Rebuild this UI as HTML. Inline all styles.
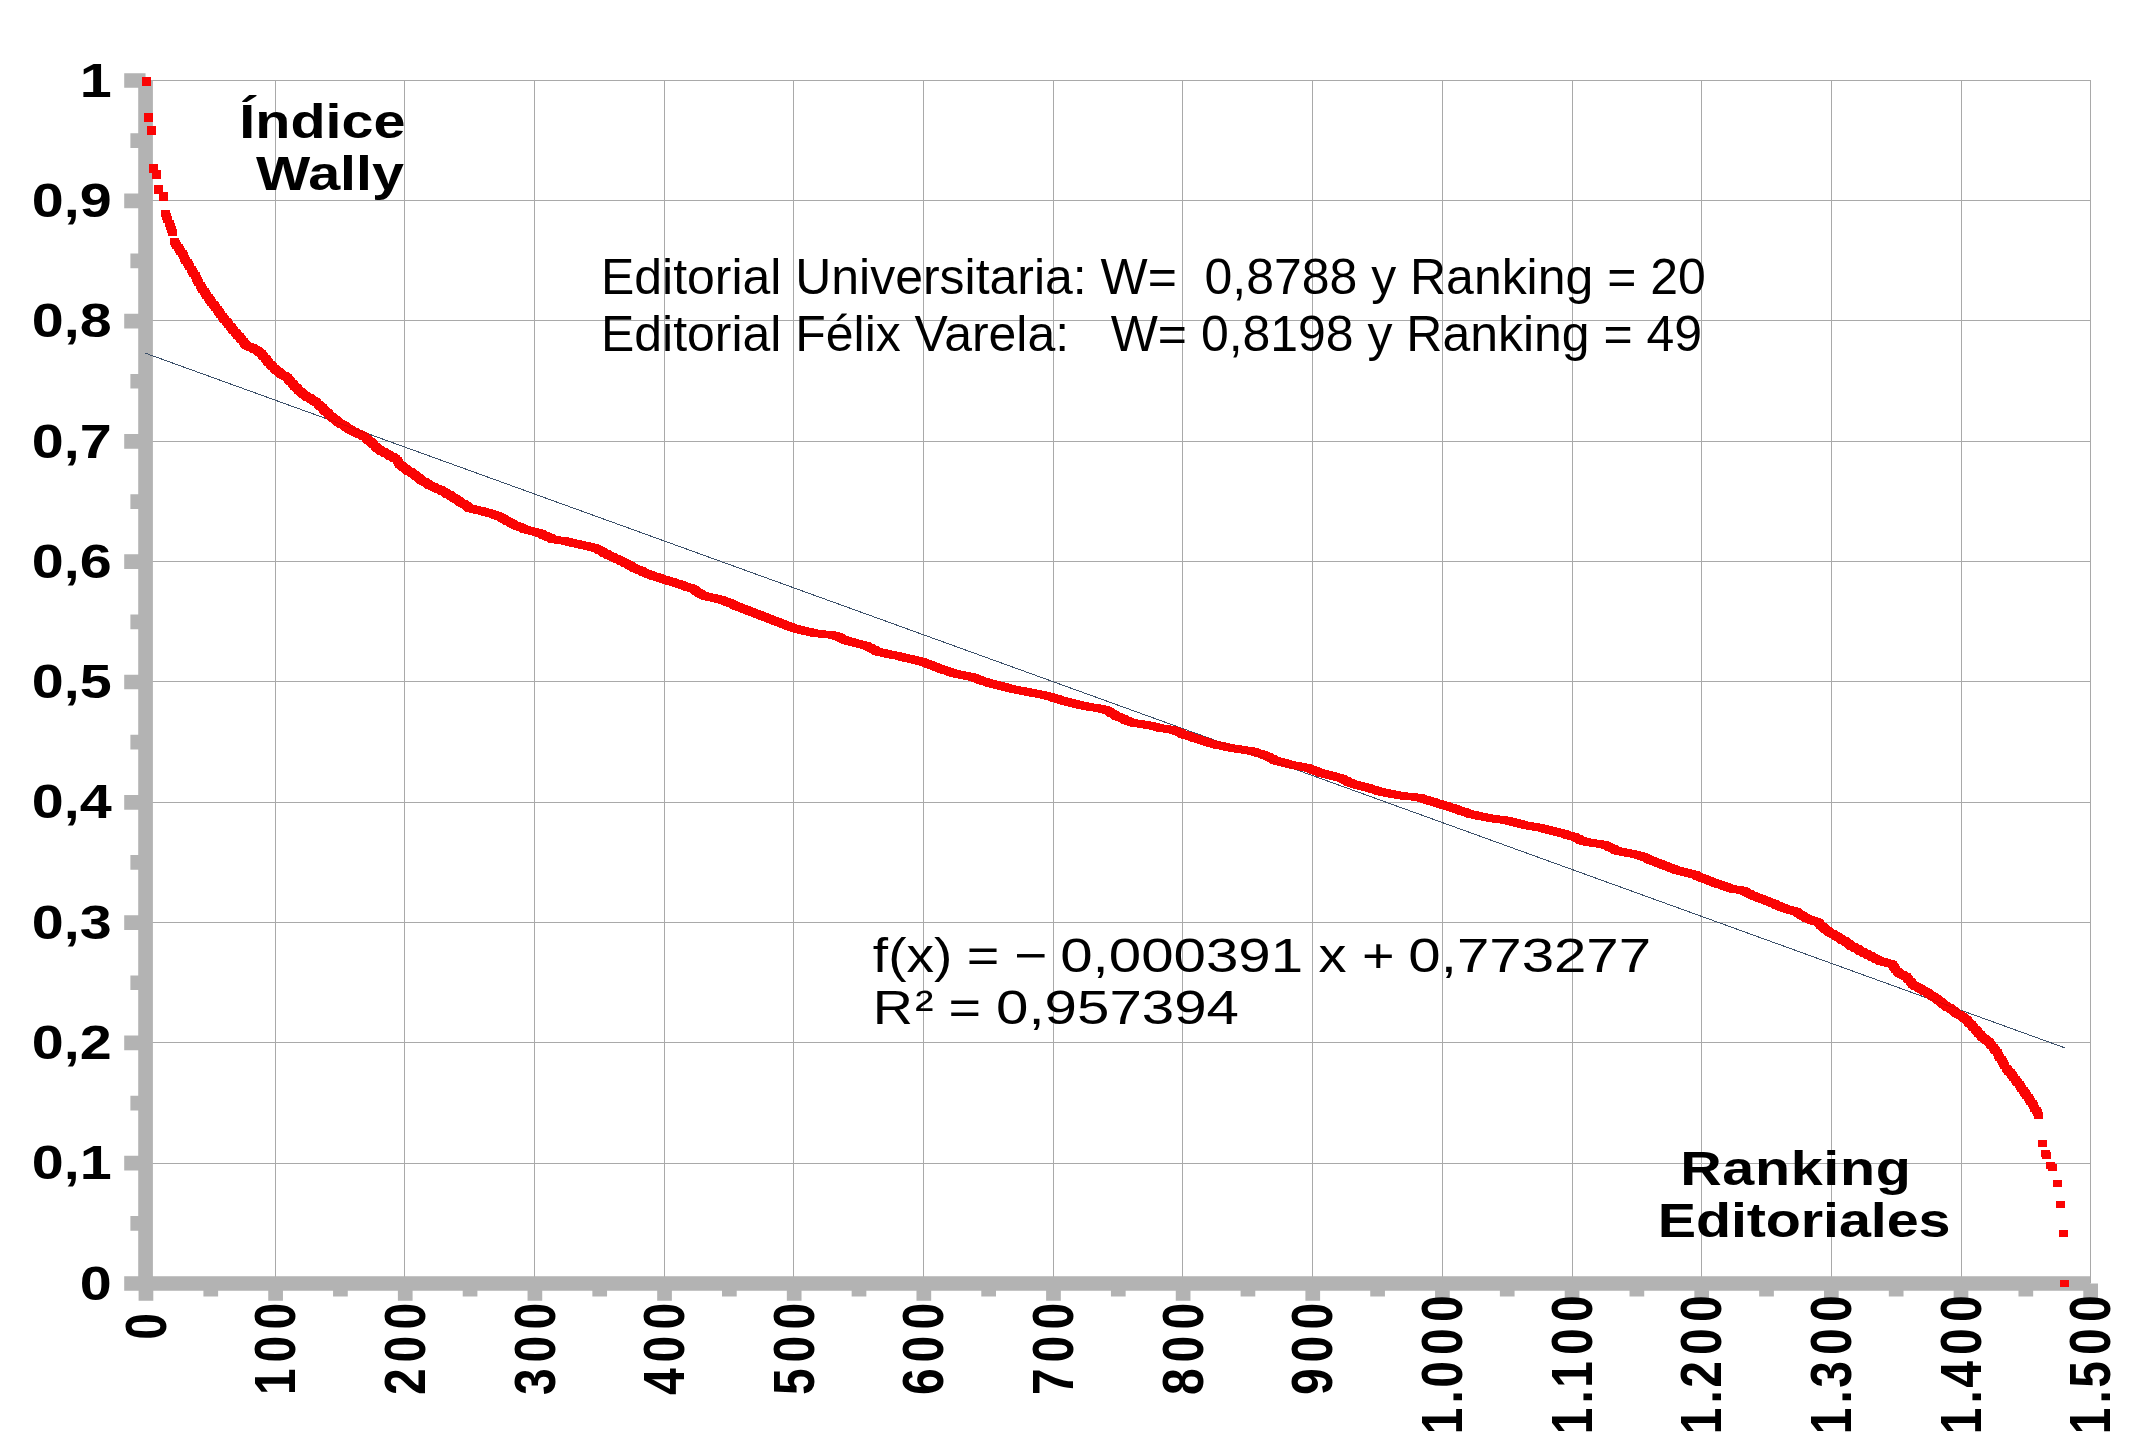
<!DOCTYPE html><html><head><meta charset="utf-8"><title>Índice Wally</title>
<style>html,body{margin:0;padding:0;background:#fff}svg{display:block}text{font-family:"Liberation Sans",sans-serif;fill:#000}.b{font-weight:bold}</style></head><body>
<svg width="2153" height="1453" viewBox="0 0 2153 1453">
<rect width="2153" height="1453" fill="#fff"/>
<path d="M275.5 80.0V1283.5M404.5 80.0V1283.5M534.5 80.0V1283.5M664.5 80.0V1283.5M793.5 80.0V1283.5M923.5 80.0V1283.5M1053.5 80.0V1283.5M1182.5 80.0V1283.5M1312.5 80.0V1283.5M1442.5 80.0V1283.5M1572.5 80.0V1283.5M1701.5 80.0V1283.5M1831.5 80.0V1283.5M1961.5 80.0V1283.5M2090.5 80.0V1283.5M145.9 1163.5H2091.0M145.9 1042.5H2091.0M145.9 922.5H2091.0M145.9 802.5H2091.0M145.9 681.5H2091.0M145.9 561.5H2091.0M145.9 441.5H2091.0M145.9 320.5H2091.0M145.9 200.5H2091.0M145.9 80.5H2091.0" stroke="#a9a9a9" stroke-width="1" fill="none"/>
<path d="M145.55 80.50V1283.50M145.55 1283.50H2090.00M124.20 1283.50H145.55M130.40 1223.35H145.55M124.20 1163.20H145.55M130.40 1103.05H145.55M124.20 1042.90H145.55M130.40 982.75H145.55M124.20 922.60H145.55M130.40 862.45H145.55M124.20 802.30H145.55M130.40 742.15H145.55M124.20 682.00H145.55M130.40 621.85H145.55M124.20 561.70H145.55M130.40 501.55H145.55M124.20 441.40H145.55M130.40 381.25H145.55M124.20 321.10H145.55M130.40 260.95H145.55M124.20 200.80H145.55M130.40 140.65H145.55M124.20 80.50H145.55M145.95 1283.50V1300.70M210.77 1283.50V1296.60M275.60 1283.50V1300.70M340.42 1283.50V1296.60M405.24 1283.50V1300.70M470.06 1283.50V1296.60M534.89 1283.50V1300.70M599.71 1283.50V1296.60M664.53 1283.50V1300.70M729.36 1283.50V1296.60M794.18 1283.50V1300.70M859.00 1283.50V1296.60M923.83 1283.50V1300.70M988.65 1283.50V1296.60M1053.47 1283.50V1300.70M1118.29 1283.50V1296.60M1183.12 1283.50V1300.70M1247.94 1283.50V1296.60M1312.76 1283.50V1300.70M1377.59 1283.50V1296.60M1442.41 1283.50V1300.70M1507.23 1283.50V1296.60M1572.06 1283.50V1300.70M1636.88 1283.50V1296.60M1701.70 1283.50V1300.70M1766.52 1283.50V1296.60M1831.35 1283.50V1300.70M1896.17 1283.50V1296.60M1960.99 1283.50V1300.70M2025.82 1283.50V1296.60M2090.64 1283.50V1300.70" stroke="#b3b3b3" stroke-width="14.7" fill="none"/>
<line x1="144.6" y1="352.9" x2="2065" y2="1047.9" stroke="#3f5f7b" stroke-width="1" shape-rendering="crispEdges"/>
<path d="M142 77h9v9h-9zM144 113h9v9h-9zM147 126h9v9h-9zM149 164h9v9h-9zM152 170h9v9h-9zM154 185h9v9h-9zM159 192h9v9h-9zM161 210h9v7h-9zM162 213h9v7h-9zM163 216h9v7h-9zM165 220h9v7h-9zM166 223h9v7h-9zM167 226h9v7h-9zM168 229h9v7h-9zM170 238h9v7h-9zM171 240h9v7h-9zM172 242h9v7h-9zM174 244h9v7h-9zM175 246h9v7h-9zM176 248h9v7h-9zM178 250h9v7h-9zM179 252h9v7h-9zM180 255h9v7h-9zM181 257h9v7h-9zM183 259h9v7h-9zM184 261h9v7h-9zM185 263h9v7h-9zM187 266h9v7h-9zM188 268h9v7h-9zM189 270h9v7h-9zM191 272h9v7h-9zM192 275h9v7h-9zM193 277h9v7h-9zM194 279h9v7h-9zM196 282h9v7h-9zM197 284h9v7h-9zM198 286h9v7h-9zM200 288h9v7h-9zM201 290h9v7h-9zM202 292h9v7h-9zM204 294h9v7h-9zM205 296h9v7h-9zM206 297h9v7h-9zM207 299h9v7h-9zM209 301h9v7h-9zM210 302h9v7h-9zM211 304h9v7h-9zM213 306h9v7h-9zM214 308h9v7h-9zM215 309h9v7h-9zM216 311h9v7h-9zM218 313h9v7h-9zM219 315h9v7h-9zM220 316h9v7h-9zM222 318h9v7h-9zM223 319h9v7h-9zM224 321h9v7h-9zM226 323h9v7h-9zM227 324h9v7h-9zM228 326h9v7h-9zM229 327h9v7h-9zM231 329h9v7h-9zM232 330h9v7h-9zM233 332h9v7h-9zM235 333h9v7h-9zM236 335h9v7h-9zM237 336h9v7h-9zM239 338h9v7h-9zM240 340h9v7h-9zM241 341h9v7h-9zM242 342h9v7h-9zM244 343h9v7h-9zM245 343h9v7h-9zM246 344h9v7h-9zM248 344h9v7h-9zM249 345h9v7h-9zM250 346h9v7h-9zM251 346h9v7h-9zM253 347h9v7h-9zM254 348h9v7h-9zM255 349h9v7h-9zM257 350h9v7h-9zM258 352h9v7h-9zM259 353h9v7h-9zM261 355h9v7h-9zM262 356h9v7h-9zM263 358h9v7h-9zM264 359h9v7h-9zM266 361h9v7h-9zM267 362h9v7h-9zM268 363h9v7h-9zM270 365h9v7h-9zM271 366h9v7h-9zM272 367h9v7h-9zM274 368h9v7h-9zM275 369h9v7h-9zM276 370h9v7h-9zM277 371h9v7h-9zM279 372h9v7h-9zM280 372h9v7h-9zM281 373h9v7h-9zM283 374h9v7h-9zM284 376h9v7h-9zM285 377h9v7h-9zM286 378h9v7h-9zM288 380h9v7h-9zM289 381h9v7h-9zM290 383h9v7h-9zM292 384h9v7h-9zM293 385h9v7h-9zM294 387h9v7h-9zM296 388h9v7h-9zM297 389h9v7h-9zM298 390h9v7h-9zM299 391h9v7h-9zM301 392h9v7h-9zM302 393h9v7h-9zM303 394h9v7h-9zM305 394h9v7h-9zM306 395h9v7h-9zM307 396h9v7h-9zM309 397h9v7h-9zM310 398h9v7h-9zM311 398h9v7h-9zM312 399h9v7h-9zM314 401h9v7h-9zM315 402h9v7h-9zM316 403h9v7h-9zM318 404h9v7h-9zM319 406h9v7h-9zM320 407h9v7h-9zM321 408h9v7h-9zM323 409h9v7h-9zM324 410h9v7h-9zM325 412h9v7h-9zM327 413h9v7h-9zM328 414h9v7h-9zM329 415h9v7h-9zM331 416h9v7h-9zM332 417h9v7h-9zM333 418h9v7h-9zM334 419h9v7h-9zM336 420h9v7h-9zM337 421h9v7h-9zM338 421h9v7h-9zM340 422h9v7h-9zM341 423h9v7h-9zM342 424h9v7h-9zM344 425h9v7h-9zM345 426h9v7h-9zM346 426h9v7h-9zM347 427h9v7h-9zM349 428h9v7h-9zM350 428h9v7h-9zM351 429h9v7h-9zM353 430h9v7h-9zM354 430h9v7h-9zM355 431h9v7h-9zM356 431h9v7h-9zM358 432h9v7h-9zM359 433h9v7h-9zM360 433h9v7h-9zM362 435h9v7h-9zM363 436h9v7h-9zM364 437h9v7h-9zM366 438h9v7h-9zM367 439h9v7h-9zM368 440h9v7h-9zM369 441h9v7h-9zM371 443h9v7h-9zM372 444h9v7h-9zM373 445h9v7h-9zM375 446h9v7h-9zM376 447h9v7h-9zM377 448h9v7h-9zM379 448h9v7h-9zM380 449h9v7h-9zM381 450h9v7h-9zM382 450h9v7h-9zM384 451h9v7h-9zM385 452h9v7h-9zM386 453h9v7h-9zM388 453h9v7h-9zM389 454h9v7h-9zM390 455h9v7h-9zM391 455h9v7h-9zM393 457h9v7h-9zM394 459h9v7h-9zM395 461h9v7h-9zM397 462h9v7h-9zM398 463h9v7h-9zM399 464h9v7h-9zM401 465h9v7h-9zM402 466h9v7h-9zM403 467h9v7h-9zM404 468h9v7h-9zM406 468h9v7h-9zM407 469h9v7h-9zM408 470h9v7h-9zM410 471h9v7h-9zM411 472h9v7h-9zM412 473h9v7h-9zM414 474h9v7h-9zM415 475h9v7h-9zM416 476h9v7h-9zM417 477h9v7h-9zM419 478h9v7h-9zM420 478h9v7h-9zM421 479h9v7h-9zM423 480h9v7h-9zM424 481h9v7h-9zM425 482h9v7h-9zM426 482h9v7h-9zM428 483h9v7h-9zM429 483h9v7h-9zM430 484h9v7h-9zM432 485h9v7h-9zM433 485h9v7h-9zM434 486h9v7h-9zM436 486h9v7h-9zM437 487h9v7h-9zM438 488h9v7h-9zM439 488h9v7h-9zM441 489h9v7h-9zM442 490h9v7h-9zM443 491h9v7h-9zM445 491h9v7h-9zM446 492h9v7h-9zM447 493h9v7h-9zM449 494h9v7h-9zM450 495h9v7h-9zM451 495h9v7h-9zM452 496h9v7h-9zM454 497h9v7h-9zM455 498h9v7h-9zM456 499h9v7h-9zM458 500h9v7h-9zM459 500h9v7h-9zM460 501h9v7h-9zM462 502h9v7h-9zM463 503h9v7h-9zM464 504h9v7h-9zM465 505h9v7h-9zM467 505h9v7h-9zM468 505h9v7h-9zM469 506h9v7h-9zM471 506h9v7h-9zM472 506h9v7h-9zM473 507h9v7h-9zM474 507h9v7h-9zM476 507h9v7h-9zM477 507h9v7h-9zM478 508h9v7h-9zM480 508h9v7h-9zM481 509h9v7h-9zM482 509h9v7h-9zM484 509h9v7h-9zM485 510h9v7h-9zM486 510h9v7h-9zM487 510h9v7h-9zM489 511h9v7h-9zM490 511h9v7h-9zM491 512h9v7h-9zM493 512h9v7h-9zM494 513h9v7h-9zM495 513h9v7h-9zM497 514h9v7h-9zM498 515h9v7h-9zM499 515h9v7h-9zM500 516h9v7h-9zM502 517h9v7h-9zM503 518h9v7h-9zM504 518h9v7h-9zM506 519h9v7h-9zM507 520h9v7h-9zM508 520h9v7h-9zM509 521h9v7h-9zM511 522h9v7h-9zM512 522h9v7h-9zM513 523h9v7h-9zM515 523h9v7h-9zM516 524h9v7h-9zM517 524h9v7h-9zM519 525h9v7h-9zM520 526h9v7h-9zM521 526h9v7h-9zM522 526h9v7h-9zM524 527h9v7h-9zM525 527h9v7h-9zM526 527h9v7h-9zM528 528h9v7h-9zM529 528h9v7h-9zM530 528h9v7h-9zM532 529h9v7h-9zM533 529h9v7h-9zM534 529h9v7h-9zM535 530h9v7h-9zM537 530h9v7h-9zM538 531h9v7h-9zM539 532h9v7h-9zM541 532h9v7h-9zM542 533h9v7h-9zM543 533h9v7h-9zM544 534h9v7h-9zM546 534h9v7h-9zM547 535h9v7h-9zM548 536h9v7h-9zM550 536h9v7h-9zM551 536h9v7h-9zM552 536h9v7h-9zM554 537h9v7h-9zM555 537h9v7h-9zM556 537h9v7h-9zM557 537h9v7h-9zM559 537h9v7h-9zM560 537h9v7h-9zM561 538h9v7h-9zM563 538h9v7h-9zM564 538h9v7h-9zM565 539h9v7h-9zM567 539h9v7h-9zM568 539h9v7h-9zM569 540h9v7h-9zM570 540h9v7h-9zM572 540h9v7h-9zM573 540h9v7h-9zM574 541h9v7h-9zM576 541h9v7h-9zM577 541h9v7h-9zM578 542h9v7h-9zM579 542h9v7h-9zM581 542h9v7h-9zM582 542h9v7h-9zM583 543h9v7h-9zM585 543h9v7h-9zM586 543h9v7h-9zM587 544h9v7h-9zM589 544h9v7h-9zM590 544h9v7h-9zM591 545h9v7h-9zM592 545h9v7h-9zM594 546h9v7h-9zM595 547h9v7h-9zM596 547h9v7h-9zM598 548h9v7h-9zM599 549h9v7h-9zM600 550h9v7h-9zM602 550h9v7h-9zM603 551h9v7h-9zM604 552h9v7h-9zM605 552h9v7h-9zM607 553h9v7h-9zM608 553h9v7h-9zM609 554h9v7h-9zM611 555h9v7h-9zM612 555h9v7h-9zM613 556h9v7h-9zM614 556h9v7h-9zM616 557h9v7h-9zM617 558h9v7h-9zM618 558h9v7h-9zM620 559h9v7h-9zM621 560h9v7h-9zM622 560h9v7h-9zM624 561h9v7h-9zM625 562h9v7h-9zM626 562h9v7h-9zM627 563h9v7h-9zM629 564h9v7h-9zM630 565h9v7h-9zM631 565h9v7h-9zM633 566h9v7h-9zM634 566h9v7h-9zM635 567h9v7h-9zM637 567h9v7h-9zM638 568h9v7h-9zM639 569h9v7h-9zM640 569h9v7h-9zM642 570h9v7h-9zM643 570h9v7h-9zM644 571h9v7h-9zM646 571h9v7h-9zM647 572h9v7h-9zM648 572h9v7h-9zM649 573h9v7h-9zM651 573h9v7h-9zM652 573h9v7h-9zM653 574h9v7h-9zM655 574h9v7h-9zM656 575h9v7h-9zM657 575h9v7h-9zM659 576h9v7h-9zM660 576h9v7h-9zM661 576h9v7h-9zM662 577h9v7h-9zM664 577h9v7h-9zM665 578h9v7h-9zM666 578h9v7h-9zM668 578h9v7h-9zM669 579h9v7h-9zM670 579h9v7h-9zM672 580h9v7h-9zM673 580h9v7h-9zM674 580h9v7h-9zM675 581h9v7h-9zM677 581h9v7h-9zM678 582h9v7h-9zM679 582h9v7h-9zM681 583h9v7h-9zM682 583h9v7h-9zM683 584h9v7h-9zM684 584h9v7h-9zM686 584h9v7h-9zM687 585h9v7h-9zM688 585h9v7h-9zM690 586h9v7h-9zM691 587h9v7h-9zM692 588h9v7h-9zM694 589h9v7h-9zM695 590h9v7h-9zM696 590h9v7h-9zM697 591h9v7h-9zM699 592h9v7h-9zM700 592h9v7h-9zM701 593h9v7h-9zM703 593h9v7h-9zM704 593h9v7h-9zM705 594h9v7h-9zM707 594h9v7h-9zM708 594h9v7h-9zM709 594h9v7h-9zM710 595h9v7h-9zM712 595h9v7h-9zM713 595h9v7h-9zM714 596h9v7h-9zM716 596h9v7h-9zM717 596h9v7h-9zM718 597h9v7h-9zM719 597h9v7h-9zM721 598h9v7h-9zM722 598h9v7h-9zM723 599h9v7h-9zM725 599h9v7h-9zM726 600h9v7h-9zM727 600h9v7h-9zM729 601h9v7h-9zM730 602h9v7h-9zM731 602h9v7h-9zM732 603h9v7h-9zM734 603h9v7h-9zM735 604h9v7h-9zM736 604h9v7h-9zM738 605h9v7h-9zM739 605h9v7h-9zM740 606h9v7h-9zM742 606h9v7h-9zM743 607h9v7h-9zM744 607h9v7h-9zM745 608h9v7h-9zM747 608h9v7h-9zM748 609h9v7h-9zM749 609h9v7h-9zM751 610h9v7h-9zM752 610h9v7h-9zM753 611h9v7h-9zM755 611h9v7h-9zM756 612h9v7h-9zM757 612h9v7h-9zM758 613h9v7h-9zM760 613h9v7h-9zM761 614h9v7h-9zM762 614h9v7h-9zM764 615h9v7h-9zM765 615h9v7h-9zM766 616h9v7h-9zM767 616h9v7h-9zM769 617h9v7h-9zM770 617h9v7h-9zM771 618h9v7h-9zM773 618h9v7h-9zM774 619h9v7h-9zM775 619h9v7h-9zM777 620h9v7h-9zM778 620h9v7h-9zM779 621h9v7h-9zM780 621h9v7h-9zM782 622h9v7h-9zM783 622h9v7h-9zM784 623h9v7h-9zM786 623h9v7h-9zM787 624h9v7h-9zM788 624h9v7h-9zM790 625h9v7h-9zM791 625h9v7h-9zM792 625h9v7h-9zM793 626h9v7h-9zM795 626h9v7h-9zM796 626h9v7h-9zM797 627h9v7h-9zM799 627h9v7h-9zM800 627h9v7h-9zM801 628h9v7h-9zM802 628h9v7h-9zM804 628h9v7h-9zM805 628h9v7h-9zM806 629h9v7h-9zM808 629h9v7h-9zM809 629h9v7h-9zM810 630h9v7h-9zM812 630h9v7h-9zM813 630h9v7h-9zM814 630h9v7h-9zM815 630h9v7h-9zM817 630h9v7h-9zM818 631h9v7h-9zM819 631h9v7h-9zM821 631h9v7h-9zM822 631h9v7h-9zM823 631h9v7h-9zM825 631h9v7h-9zM826 631h9v7h-9zM827 631h9v7h-9zM828 632h9v7h-9zM830 632h9v7h-9zM831 632h9v7h-9zM832 633h9v7h-9zM834 633h9v7h-9zM835 634h9v7h-9zM836 634h9v7h-9zM837 635h9v7h-9zM839 636h9v7h-9zM840 636h9v7h-9zM841 637h9v7h-9zM843 637h9v7h-9zM844 638h9v7h-9zM845 638h9v7h-9zM847 638h9v7h-9zM848 639h9v7h-9zM849 639h9v7h-9zM850 639h9v7h-9zM852 640h9v7h-9zM853 640h9v7h-9zM854 640h9v7h-9zM856 641h9v7h-9zM857 641h9v7h-9zM858 641h9v7h-9zM860 642h9v7h-9zM861 642h9v7h-9zM862 642h9v7h-9zM863 643h9v7h-9zM865 644h9v7h-9zM866 644h9v7h-9zM867 645h9v7h-9zM869 646h9v7h-9zM870 646h9v7h-9zM871 647h9v7h-9zM872 648h9v7h-9zM874 648h9v7h-9zM875 649h9v7h-9zM876 649h9v7h-9zM878 649h9v7h-9zM879 649h9v7h-9zM880 650h9v7h-9zM882 650h9v7h-9zM883 650h9v7h-9zM884 651h9v7h-9zM885 651h9v7h-9zM887 651h9v7h-9zM888 651h9v7h-9zM889 652h9v7h-9zM891 652h9v7h-9zM892 652h9v7h-9zM893 652h9v7h-9zM895 653h9v7h-9zM896 653h9v7h-9zM897 653h9v7h-9zM898 654h9v7h-9zM900 654h9v7h-9zM901 654h9v7h-9zM902 655h9v7h-9zM904 655h9v7h-9zM905 655h9v7h-9zM906 655h9v7h-9zM907 656h9v7h-9zM909 656h9v7h-9zM910 656h9v7h-9zM911 657h9v7h-9zM913 657h9v7h-9zM914 657h9v7h-9zM915 658h9v7h-9zM917 658h9v7h-9zM918 658h9v7h-9zM919 659h9v7h-9zM920 659h9v7h-9zM922 660h9v7h-9zM923 660h9v7h-9zM924 661h9v7h-9zM926 661h9v7h-9zM927 662h9v7h-9zM928 662h9v7h-9zM930 663h9v7h-9zM931 663h9v7h-9zM932 664h9v7h-9zM933 664h9v7h-9zM935 665h9v7h-9zM936 665h9v7h-9zM937 666h9v7h-9zM939 666h9v7h-9zM940 667h9v7h-9zM941 667h9v7h-9zM942 667h9v7h-9zM944 668h9v7h-9zM945 668h9v7h-9zM946 669h9v7h-9zM948 669h9v7h-9zM949 670h9v7h-9zM950 670h9v7h-9zM952 670h9v7h-9zM953 671h9v7h-9zM954 671h9v7h-9zM955 671h9v7h-9zM957 671h9v7h-9zM958 672h9v7h-9zM959 672h9v7h-9zM961 672h9v7h-9zM962 672h9v7h-9zM963 673h9v7h-9zM965 673h9v7h-9zM966 673h9v7h-9zM967 673h9v7h-9zM968 674h9v7h-9zM970 674h9v7h-9zM971 675h9v7h-9zM972 675h9v7h-9zM974 676h9v7h-9zM975 676h9v7h-9zM976 677h9v7h-9zM977 677h9v7h-9zM979 678h9v7h-9zM980 678h9v7h-9zM981 678h9v7h-9zM983 679h9v7h-9zM984 679h9v7h-9zM985 680h9v7h-9zM987 680h9v7h-9zM988 680h9v7h-9zM989 681h9v7h-9zM990 681h9v7h-9zM992 681h9v7h-9zM993 682h9v7h-9zM994 682h9v7h-9zM996 682h9v7h-9zM997 683h9v7h-9zM998 683h9v7h-9zM1000 683h9v7h-9zM1001 684h9v7h-9zM1002 684h9v7h-9zM1003 684h9v7h-9zM1005 685h9v7h-9zM1006 685h9v7h-9zM1007 685h9v7h-9zM1009 686h9v7h-9zM1010 686h9v7h-9zM1011 686h9v7h-9zM1012 686h9v7h-9zM1014 687h9v7h-9zM1015 687h9v7h-9zM1016 687h9v7h-9zM1018 687h9v7h-9zM1019 688h9v7h-9zM1020 688h9v7h-9zM1022 688h9v7h-9zM1023 688h9v7h-9zM1024 689h9v7h-9zM1025 689h9v7h-9zM1027 689h9v7h-9zM1028 689h9v7h-9zM1029 690h9v7h-9zM1031 690h9v7h-9zM1032 690h9v7h-9zM1033 690h9v7h-9zM1035 691h9v7h-9zM1036 691h9v7h-9zM1037 691h9v7h-9zM1038 691h9v7h-9zM1040 692h9v7h-9zM1041 692h9v7h-9zM1042 692h9v7h-9zM1044 693h9v7h-9zM1045 693h9v7h-9zM1046 693h9v7h-9zM1048 694h9v7h-9zM1049 694h9v7h-9zM1050 695h9v7h-9zM1051 695h9v7h-9zM1053 695h9v7h-9zM1054 696h9v7h-9zM1055 696h9v7h-9zM1057 697h9v7h-9zM1058 697h9v7h-9zM1059 697h9v7h-9zM1060 698h9v7h-9zM1062 698h9v7h-9zM1063 698h9v7h-9zM1064 699h9v7h-9zM1066 699h9v7h-9zM1067 699h9v7h-9zM1068 700h9v7h-9zM1070 700h9v7h-9zM1071 700h9v7h-9zM1072 701h9v7h-9zM1073 701h9v7h-9zM1075 701h9v7h-9zM1076 702h9v7h-9zM1077 702h9v7h-9zM1079 702h9v7h-9zM1080 702h9v7h-9zM1081 703h9v7h-9zM1083 703h9v7h-9zM1084 703h9v7h-9zM1085 703h9v7h-9zM1086 704h9v7h-9zM1088 704h9v7h-9zM1089 704h9v7h-9zM1090 704h9v7h-9zM1092 704h9v7h-9zM1093 705h9v7h-9zM1094 705h9v7h-9zM1095 705h9v7h-9zM1097 705h9v7h-9zM1098 706h9v7h-9zM1099 706h9v7h-9zM1101 706h9v7h-9zM1102 707h9v7h-9zM1103 707h9v7h-9zM1105 708h9v7h-9zM1106 709h9v7h-9zM1107 710h9v7h-9zM1108 710h9v7h-9zM1110 711h9v7h-9zM1111 712h9v7h-9zM1112 713h9v7h-9zM1114 713h9v7h-9zM1115 714h9v7h-9zM1116 714h9v7h-9zM1118 715h9v7h-9zM1119 715h9v7h-9zM1120 716h9v7h-9zM1121 717h9v7h-9zM1123 717h9v7h-9zM1124 718h9v7h-9zM1125 718h9v7h-9zM1127 719h9v7h-9zM1128 719h9v7h-9zM1129 719h9v7h-9zM1130 720h9v7h-9zM1132 720h9v7h-9zM1133 720h9v7h-9zM1134 720h9v7h-9zM1136 720h9v7h-9zM1137 721h9v7h-9zM1138 721h9v7h-9zM1140 721h9v7h-9zM1141 721h9v7h-9zM1142 721h9v7h-9zM1143 722h9v7h-9zM1145 722h9v7h-9zM1146 722h9v7h-9zM1147 722h9v7h-9zM1149 723h9v7h-9zM1150 723h9v7h-9zM1151 723h9v7h-9zM1153 724h9v7h-9zM1154 724h9v7h-9zM1155 724h9v7h-9zM1156 725h9v7h-9zM1158 725h9v7h-9zM1159 725h9v7h-9zM1160 725h9v7h-9zM1162 725h9v7h-9zM1163 726h9v7h-9zM1164 726h9v7h-9zM1165 726h9v7h-9zM1167 726h9v7h-9zM1168 726h9v7h-9zM1169 727h9v7h-9zM1171 727h9v7h-9zM1172 728h9v7h-9zM1173 728h9v7h-9zM1175 729h9v7h-9zM1176 729h9v7h-9zM1177 730h9v7h-9zM1178 731h9v7h-9zM1180 731h9v7h-9zM1181 732h9v7h-9zM1182 732h9v7h-9zM1184 732h9v7h-9zM1185 733h9v7h-9zM1186 733h9v7h-9zM1188 734h9v7h-9zM1189 734h9v7h-9zM1190 735h9v7h-9zM1191 735h9v7h-9zM1193 735h9v7h-9zM1194 736h9v7h-9zM1195 736h9v7h-9zM1197 737h9v7h-9zM1198 737h9v7h-9zM1199 737h9v7h-9zM1200 738h9v7h-9zM1202 738h9v7h-9zM1203 739h9v7h-9zM1204 739h9v7h-9zM1206 740h9v7h-9zM1207 740h9v7h-9zM1208 740h9v7h-9zM1210 741h9v7h-9zM1211 741h9v7h-9zM1212 741h9v7h-9zM1213 742h9v7h-9zM1215 742h9v7h-9zM1216 742h9v7h-9zM1217 742h9v7h-9zM1219 743h9v7h-9zM1220 743h9v7h-9zM1221 743h9v7h-9zM1223 744h9v7h-9zM1224 744h9v7h-9zM1225 744h9v7h-9zM1226 744h9v7h-9zM1228 745h9v7h-9zM1229 745h9v7h-9zM1230 745h9v7h-9zM1232 745h9v7h-9zM1233 745h9v7h-9zM1234 746h9v7h-9zM1235 746h9v7h-9zM1237 746h9v7h-9zM1238 746h9v7h-9zM1239 746h9v7h-9zM1241 747h9v7h-9zM1242 747h9v7h-9zM1243 747h9v7h-9zM1245 747h9v7h-9zM1246 747h9v7h-9zM1247 748h9v7h-9zM1248 748h9v7h-9zM1250 748h9v7h-9zM1251 749h9v7h-9zM1252 749h9v7h-9zM1254 750h9v7h-9zM1255 750h9v7h-9zM1256 750h9v7h-9zM1258 751h9v7h-9zM1259 751h9v7h-9zM1260 752h9v7h-9zM1261 752h9v7h-9zM1263 753h9v7h-9zM1264 753h9v7h-9zM1265 754h9v7h-9zM1267 755h9v7h-9zM1268 755h9v7h-9zM1269 756h9v7h-9zM1270 757h9v7h-9zM1272 757h9v7h-9zM1273 758h9v7h-9zM1274 758h9v7h-9zM1276 758h9v7h-9zM1277 759h9v7h-9zM1278 759h9v7h-9zM1280 759h9v7h-9zM1281 760h9v7h-9zM1282 760h9v7h-9zM1283 760h9v7h-9zM1285 761h9v7h-9zM1286 761h9v7h-9zM1287 761h9v7h-9zM1289 762h9v7h-9zM1290 762h9v7h-9zM1291 762h9v7h-9zM1293 762h9v7h-9zM1294 763h9v7h-9zM1295 763h9v7h-9zM1296 763h9v7h-9zM1298 763h9v7h-9zM1299 764h9v7h-9zM1300 764h9v7h-9zM1302 764h9v7h-9zM1303 764h9v7h-9zM1304 765h9v7h-9zM1305 765h9v7h-9zM1307 766h9v7h-9zM1308 766h9v7h-9zM1309 767h9v7h-9zM1311 767h9v7h-9zM1312 768h9v7h-9zM1313 768h9v7h-9zM1315 769h9v7h-9zM1316 769h9v7h-9zM1317 770h9v7h-9zM1318 770h9v7h-9zM1320 770h9v7h-9zM1321 771h9v7h-9zM1322 771h9v7h-9zM1324 771h9v7h-9zM1325 772h9v7h-9zM1326 772h9v7h-9zM1328 772h9v7h-9zM1329 773h9v7h-9zM1330 773h9v7h-9zM1331 773h9v7h-9zM1333 774h9v7h-9zM1334 774h9v7h-9zM1335 774h9v7h-9zM1337 775h9v7h-9zM1338 775h9v7h-9zM1339 776h9v7h-9zM1341 777h9v7h-9zM1342 777h9v7h-9zM1343 778h9v7h-9zM1344 779h9v7h-9zM1346 779h9v7h-9zM1347 780h9v7h-9zM1348 780h9v7h-9zM1350 781h9v7h-9zM1351 781h9v7h-9zM1352 781h9v7h-9zM1353 782h9v7h-9zM1355 782h9v7h-9zM1356 782h9v7h-9zM1357 783h9v7h-9zM1359 783h9v7h-9zM1360 783h9v7h-9zM1361 784h9v7h-9zM1363 784h9v7h-9zM1364 784h9v7h-9zM1365 785h9v7h-9zM1366 785h9v7h-9zM1368 786h9v7h-9zM1369 786h9v7h-9zM1370 786h9v7h-9zM1372 787h9v7h-9zM1373 787h9v7h-9zM1374 788h9v7h-9zM1376 788h9v7h-9zM1377 788h9v7h-9zM1378 789h9v7h-9zM1379 789h9v7h-9zM1381 789h9v7h-9zM1382 789h9v7h-9zM1383 790h9v7h-9zM1385 790h9v7h-9zM1386 790h9v7h-9zM1387 790h9v7h-9zM1388 791h9v7h-9zM1390 791h9v7h-9zM1391 791h9v7h-9zM1392 791h9v7h-9zM1394 792h9v7h-9zM1395 792h9v7h-9zM1396 792h9v7h-9zM1398 792h9v7h-9zM1399 792h9v7h-9zM1400 793h9v7h-9zM1401 793h9v7h-9zM1403 793h9v7h-9zM1404 793h9v7h-9zM1405 793h9v7h-9zM1407 793h9v7h-9zM1408 793h9v7h-9zM1409 793h9v7h-9zM1411 794h9v7h-9zM1412 794h9v7h-9zM1413 794h9v7h-9zM1414 794h9v7h-9zM1416 794h9v7h-9zM1417 795h9v7h-9zM1418 795h9v7h-9zM1420 796h9v7h-9zM1421 796h9v7h-9zM1422 796h9v7h-9zM1423 797h9v7h-9zM1425 797h9v7h-9zM1426 798h9v7h-9zM1427 798h9v7h-9zM1429 798h9v7h-9zM1430 799h9v7h-9zM1431 799h9v7h-9zM1433 800h9v7h-9zM1434 800h9v7h-9zM1435 800h9v7h-9zM1436 801h9v7h-9zM1438 801h9v7h-9zM1439 802h9v7h-9zM1440 802h9v7h-9zM1442 802h9v7h-9zM1443 803h9v7h-9zM1444 803h9v7h-9zM1446 804h9v7h-9zM1447 804h9v7h-9zM1448 804h9v7h-9zM1449 805h9v7h-9zM1451 805h9v7h-9zM1452 806h9v7h-9zM1453 806h9v7h-9zM1455 807h9v7h-9zM1456 807h9v7h-9zM1457 808h9v7h-9zM1458 808h9v7h-9zM1460 808h9v7h-9zM1461 809h9v7h-9zM1462 809h9v7h-9zM1464 810h9v7h-9zM1465 810h9v7h-9zM1466 811h9v7h-9zM1468 811h9v7h-9zM1469 811h9v7h-9zM1470 811h9v7h-9zM1471 812h9v7h-9zM1473 812h9v7h-9zM1474 812h9v7h-9zM1475 813h9v7h-9zM1477 813h9v7h-9zM1478 813h9v7h-9zM1479 813h9v7h-9zM1481 814h9v7h-9zM1482 814h9v7h-9zM1483 814h9v7h-9zM1484 814h9v7h-9zM1486 815h9v7h-9zM1487 815h9v7h-9zM1488 815h9v7h-9zM1490 815h9v7h-9zM1491 815h9v7h-9zM1492 816h9v7h-9zM1493 816h9v7h-9zM1495 816h9v7h-9zM1496 816h9v7h-9zM1497 816h9v7h-9zM1499 816h9v7h-9zM1500 817h9v7h-9zM1501 817h9v7h-9zM1503 817h9v7h-9zM1504 817h9v7h-9zM1505 818h9v7h-9zM1506 818h9v7h-9zM1508 818h9v7h-9zM1509 819h9v7h-9zM1510 819h9v7h-9zM1512 819h9v7h-9zM1513 820h9v7h-9zM1514 820h9v7h-9zM1516 820h9v7h-9zM1517 821h9v7h-9zM1518 821h9v7h-9zM1519 821h9v7h-9zM1521 822h9v7h-9zM1522 822h9v7h-9zM1523 822h9v7h-9zM1525 822h9v7h-9zM1526 823h9v7h-9zM1527 823h9v7h-9zM1528 823h9v7h-9zM1530 823h9v7h-9zM1531 823h9v7h-9zM1532 824h9v7h-9zM1534 824h9v7h-9zM1535 824h9v7h-9zM1536 824h9v7h-9zM1538 825h9v7h-9zM1539 825h9v7h-9zM1540 825h9v7h-9zM1541 826h9v7h-9zM1543 826h9v7h-9zM1544 826h9v7h-9zM1545 827h9v7h-9zM1547 827h9v7h-9zM1548 827h9v7h-9zM1549 828h9v7h-9zM1551 828h9v7h-9zM1552 828h9v7h-9zM1553 829h9v7h-9zM1554 829h9v7h-9zM1556 829h9v7h-9zM1557 830h9v7h-9zM1558 830h9v7h-9zM1560 830h9v7h-9zM1561 831h9v7h-9zM1562 831h9v7h-9zM1563 832h9v7h-9zM1565 832h9v7h-9zM1566 832h9v7h-9zM1567 833h9v7h-9zM1569 833h9v7h-9zM1570 833h9v7h-9zM1571 834h9v7h-9zM1573 835h9v7h-9zM1574 835h9v7h-9zM1575 836h9v7h-9zM1576 837h9v7h-9zM1578 837h9v7h-9zM1579 838h9v7h-9zM1580 838h9v7h-9zM1582 838h9v7h-9zM1583 839h9v7h-9zM1584 839h9v7h-9zM1586 839h9v7h-9zM1587 839h9v7h-9zM1588 839h9v7h-9zM1589 840h9v7h-9zM1591 840h9v7h-9zM1592 840h9v7h-9zM1593 840h9v7h-9zM1595 840h9v7h-9zM1596 841h9v7h-9zM1597 841h9v7h-9zM1598 841h9v7h-9zM1600 841h9v7h-9zM1601 842h9v7h-9zM1602 842h9v7h-9zM1604 843h9v7h-9zM1605 844h9v7h-9zM1606 844h9v7h-9zM1608 845h9v7h-9zM1609 845h9v7h-9zM1610 846h9v7h-9zM1611 847h9v7h-9zM1613 847h9v7h-9zM1614 848h9v7h-9zM1615 848h9v7h-9zM1617 848h9v7h-9zM1618 848h9v7h-9zM1619 849h9v7h-9zM1621 849h9v7h-9zM1622 849h9v7h-9zM1623 849h9v7h-9zM1624 850h9v7h-9zM1626 850h9v7h-9zM1627 850h9v7h-9zM1628 850h9v7h-9zM1630 851h9v7h-9zM1631 851h9v7h-9zM1632 851h9v7h-9zM1634 852h9v7h-9zM1635 852h9v7h-9zM1636 852h9v7h-9zM1637 853h9v7h-9zM1639 853h9v7h-9zM1640 854h9v7h-9zM1641 854h9v7h-9zM1643 855h9v7h-9zM1644 856h9v7h-9zM1645 856h9v7h-9zM1646 857h9v7h-9zM1648 857h9v7h-9zM1649 858h9v7h-9zM1650 858h9v7h-9zM1652 859h9v7h-9zM1653 859h9v7h-9zM1654 860h9v7h-9zM1656 860h9v7h-9zM1657 861h9v7h-9zM1658 861h9v7h-9zM1659 862h9v7h-9zM1661 862h9v7h-9zM1662 863h9v7h-9zM1663 863h9v7h-9zM1665 864h9v7h-9zM1666 864h9v7h-9zM1667 865h9v7h-9zM1669 865h9v7h-9zM1670 866h9v7h-9zM1671 866h9v7h-9zM1672 867h9v7h-9zM1674 867h9v7h-9zM1675 867h9v7h-9zM1676 868h9v7h-9zM1678 868h9v7h-9zM1679 868h9v7h-9zM1680 869h9v7h-9zM1681 869h9v7h-9zM1683 869h9v7h-9zM1684 870h9v7h-9zM1685 870h9v7h-9zM1687 870h9v7h-9zM1688 871h9v7h-9zM1689 871h9v7h-9zM1691 871h9v7h-9zM1692 872h9v7h-9zM1693 873h9v7h-9zM1694 873h9v7h-9zM1696 874h9v7h-9zM1697 874h9v7h-9zM1698 875h9v7h-9zM1700 875h9v7h-9zM1701 876h9v7h-9zM1702 876h9v7h-9zM1704 877h9v7h-9zM1705 877h9v7h-9zM1706 878h9v7h-9zM1707 878h9v7h-9zM1709 879h9v7h-9zM1710 879h9v7h-9zM1711 880h9v7h-9zM1713 880h9v7h-9zM1714 881h9v7h-9zM1715 881h9v7h-9zM1716 881h9v7h-9zM1718 882h9v7h-9zM1719 882h9v7h-9zM1720 883h9v7h-9zM1722 883h9v7h-9zM1723 884h9v7h-9zM1724 884h9v7h-9zM1726 885h9v7h-9zM1727 885h9v7h-9zM1728 885h9v7h-9zM1729 886h9v7h-9zM1731 886h9v7h-9zM1732 886h9v7h-9zM1733 886h9v7h-9zM1735 886h9v7h-9zM1736 887h9v7h-9zM1737 887h9v7h-9zM1739 887h9v7h-9zM1740 888h9v7h-9zM1741 888h9v7h-9zM1742 889h9v7h-9zM1744 890h9v7h-9zM1745 890h9v7h-9zM1746 891h9v7h-9zM1748 892h9v7h-9zM1749 892h9v7h-9zM1750 893h9v7h-9zM1751 893h9v7h-9zM1753 894h9v7h-9zM1754 894h9v7h-9zM1755 895h9v7h-9zM1757 895h9v7h-9zM1758 896h9v7h-9zM1759 896h9v7h-9zM1761 897h9v7h-9zM1762 897h9v7h-9zM1763 898h9v7h-9zM1764 898h9v7h-9zM1766 899h9v7h-9zM1767 899h9v7h-9zM1768 900h9v7h-9zM1770 900h9v7h-9zM1771 901h9v7h-9zM1772 902h9v7h-9zM1774 902h9v7h-9zM1775 903h9v7h-9zM1776 903h9v7h-9zM1777 904h9v7h-9zM1779 904h9v7h-9zM1780 905h9v7h-9zM1781 905h9v7h-9zM1783 906h9v7h-9zM1784 906h9v7h-9zM1785 906h9v7h-9zM1786 907h9v7h-9zM1788 907h9v7h-9zM1789 907h9v7h-9zM1790 908h9v7h-9zM1792 908h9v7h-9zM1793 909h9v7h-9zM1794 910h9v7h-9zM1796 911h9v7h-9zM1797 912h9v7h-9zM1798 912h9v7h-9zM1799 913h9v7h-9zM1801 914h9v7h-9zM1802 915h9v7h-9zM1803 915h9v7h-9zM1805 916h9v7h-9zM1806 916h9v7h-9zM1807 917h9v7h-9zM1809 917h9v7h-9zM1810 918h9v7h-9zM1811 918h9v7h-9zM1812 918h9v7h-9zM1814 919h9v7h-9zM1815 920h9v7h-9zM1816 922h9v7h-9zM1818 923h9v7h-9zM1819 924h9v7h-9zM1820 925h9v7h-9zM1821 926h9v7h-9zM1823 927h9v7h-9zM1824 928h9v7h-9zM1825 929h9v7h-9zM1827 930h9v7h-9zM1828 930h9v7h-9zM1829 931h9v7h-9zM1831 932h9v7h-9zM1832 933h9v7h-9zM1833 933h9v7h-9zM1834 934h9v7h-9zM1836 935h9v7h-9zM1837 936h9v7h-9zM1838 937h9v7h-9zM1840 937h9v7h-9zM1841 938h9v7h-9zM1842 939h9v7h-9zM1844 940h9v7h-9zM1845 941h9v7h-9zM1846 942h9v7h-9zM1847 943h9v7h-9zM1849 943h9v7h-9zM1850 944h9v7h-9zM1851 945h9v7h-9zM1853 945h9v7h-9zM1854 946h9v7h-9zM1855 947h9v7h-9zM1856 948h9v7h-9zM1858 948h9v7h-9zM1859 949h9v7h-9zM1860 950h9v7h-9zM1862 950h9v7h-9zM1863 951h9v7h-9zM1864 952h9v7h-9zM1866 952h9v7h-9zM1867 953h9v7h-9zM1868 954h9v7h-9zM1869 954h9v7h-9zM1871 955h9v7h-9zM1872 956h9v7h-9zM1873 956h9v7h-9zM1875 957h9v7h-9zM1876 958h9v7h-9zM1877 958h9v7h-9zM1879 958h9v7h-9zM1880 959h9v7h-9zM1881 959h9v7h-9zM1882 959h9v7h-9zM1884 960h9v7h-9zM1885 960h9v7h-9zM1886 960h9v7h-9zM1888 961h9v7h-9zM1889 963h9v7h-9zM1890 964h9v7h-9zM1891 966h9v7h-9zM1893 968h9v7h-9zM1894 969h9v7h-9zM1895 970h9v7h-9zM1897 971h9v7h-9zM1898 971h9v7h-9zM1899 972h9v7h-9zM1901 973h9v7h-9zM1902 973h9v7h-9zM1903 975h9v7h-9zM1904 976h9v7h-9zM1906 978h9v7h-9zM1907 979h9v7h-9zM1908 981h9v7h-9zM1910 982h9v7h-9zM1911 983h9v7h-9zM1912 983h9v7h-9zM1914 984h9v7h-9zM1915 985h9v7h-9zM1916 985h9v7h-9zM1917 986h9v7h-9zM1919 987h9v7h-9zM1920 988h9v7h-9zM1921 988h9v7h-9zM1923 989h9v7h-9zM1924 990h9v7h-9zM1925 991h9v7h-9zM1927 992h9v7h-9zM1928 993h9v7h-9zM1929 993h9v7h-9zM1930 994h9v7h-9zM1932 995h9v7h-9zM1933 996h9v7h-9zM1934 997h9v7h-9zM1936 998h9v7h-9zM1937 999h9v7h-9zM1938 1000h9v7h-9zM1939 1001h9v7h-9zM1941 1002h9v7h-9zM1942 1003h9v7h-9zM1943 1004h9v7h-9zM1945 1004h9v7h-9zM1946 1005h9v7h-9zM1947 1006h9v7h-9zM1949 1007h9v7h-9zM1950 1008h9v7h-9zM1951 1009h9v7h-9zM1952 1010h9v7h-9zM1954 1011h9v7h-9zM1955 1011h9v7h-9zM1956 1012h9v7h-9zM1958 1013h9v7h-9zM1959 1014h9v7h-9zM1960 1015h9v7h-9zM1962 1016h9v7h-9zM1963 1017h9v7h-9zM1964 1019h9v7h-9zM1965 1020h9v7h-9zM1967 1021h9v7h-9zM1968 1023h9v7h-9zM1969 1024h9v7h-9zM1971 1026h9v7h-9zM1972 1027h9v7h-9zM1973 1028h9v7h-9zM1974 1030h9v7h-9zM1976 1031h9v7h-9zM1977 1033h9v7h-9zM1978 1034h9v7h-9zM1980 1035h9v7h-9zM1981 1036h9v7h-9zM1982 1037h9v7h-9zM1984 1038h9v7h-9zM1985 1039h9v7h-9zM1986 1041h9v7h-9zM1987 1042h9v7h-9zM1989 1044h9v7h-9zM1990 1046h9v7h-9zM1991 1047h9v7h-9zM1993 1049h9v7h-9zM1994 1052h9v7h-9zM1995 1054h9v7h-9zM1997 1056h9v7h-9zM1998 1058h9v7h-9zM1999 1060h9v7h-9zM2000 1062h9v7h-9zM2002 1065h9v7h-9zM2003 1066h9v7h-9zM2004 1068h9v7h-9zM2006 1069h9v7h-9zM2007 1071h9v7h-9zM2008 1072h9v7h-9zM2009 1074h9v7h-9zM2011 1076h9v7h-9zM2012 1078h9v7h-9zM2013 1079h9v7h-9zM2015 1081h9v7h-9zM2016 1083h9v7h-9zM2017 1085h9v7h-9zM2019 1087h9v7h-9zM2020 1089h9v7h-9zM2021 1090h9v7h-9zM2022 1092h9v7h-9zM2024 1094h9v7h-9zM2025 1096h9v7h-9zM2026 1098h9v7h-9zM2028 1100h9v7h-9zM2029 1102h9v7h-9zM2030 1105h9v7h-9zM2032 1107h9v7h-9zM2033 1109h9v7h-9zM2034 1112h9v7h-9zM2038 1140h9v7h-9zM2041 1150h9v7h-9zM2042 1152h9v7h-9zM2046 1162h9v7h-9zM2048 1164h9v7h-9zM2053 1180h9v7h-9zM2056 1201h9v7h-9zM2059 1230h9v7h-9zM2060 1280h9v7h-9z" fill="#fa0404" shape-rendering="crispEdges"/>
<line x1="144.6" y1="352.9" x2="2065" y2="1047.9" stroke="#3a0a10" stroke-opacity="0.16" stroke-width="1" shape-rendering="crispEdges"/>
<text class="b" font-size="48.2" text-anchor="end" transform="translate(111.8 1299.6) scale(1.193 1)">0</text>
<text class="b" font-size="48.2" text-anchor="end" transform="translate(111.8 1179.3) scale(1.193 1)">0,1</text>
<text class="b" font-size="48.2" text-anchor="end" transform="translate(111.8 1059.0) scale(1.193 1)">0,2</text>
<text class="b" font-size="48.2" text-anchor="end" transform="translate(111.8 938.7) scale(1.193 1)">0,3</text>
<text class="b" font-size="48.2" text-anchor="end" transform="translate(111.8 818.4) scale(1.193 1)">0,4</text>
<text class="b" font-size="48.2" text-anchor="end" transform="translate(111.8 698.1) scale(1.193 1)">0,5</text>
<text class="b" font-size="48.2" text-anchor="end" transform="translate(111.8 577.8) scale(1.193 1)">0,6</text>
<text class="b" font-size="48.2" text-anchor="end" transform="translate(111.8 457.5) scale(1.193 1)">0,7</text>
<text class="b" font-size="48.2" text-anchor="end" transform="translate(111.8 337.2) scale(1.193 1)">0,8</text>
<text class="b" font-size="48.2" text-anchor="end" transform="translate(111.8 216.9) scale(1.193 1)">0,9</text>
<text class="b" font-size="48.2" text-anchor="end" transform="translate(111.8 96.6) scale(1.193 1)">1</text>
<clipPath id="c"><rect x="0" y="0" width="2153" height="1432.2"/></clipPath><g clip-path="url(#c)">
<text class="b" font-size="48.0" transform="translate(165.5 1339.8) rotate(-90) scale(1 1.190)" x="0.0">0</text>
<text class="b" font-size="48.0" transform="translate(295.2 1394.9) rotate(-90) scale(1 1.190)" x="0.0 32.5 65.3">100</text>
<text class="b" font-size="48.0" transform="translate(424.8 1394.9) rotate(-90) scale(1 1.190)" x="0.0 32.5 65.3">200</text>
<text class="b" font-size="48.0" transform="translate(554.5 1394.9) rotate(-90) scale(1 1.190)" x="0.0 32.5 65.3">300</text>
<text class="b" font-size="48.0" transform="translate(684.1 1394.9) rotate(-90) scale(1 1.190)" x="0.0 32.5 65.3">400</text>
<text class="b" font-size="48.0" transform="translate(813.8 1394.9) rotate(-90) scale(1 1.190)" x="0.0 32.5 65.3">500</text>
<text class="b" font-size="48.0" transform="translate(943.4 1394.9) rotate(-90) scale(1 1.190)" x="0.0 32.5 65.3">600</text>
<text class="b" font-size="48.0" transform="translate(1073.1 1394.9) rotate(-90) scale(1 1.190)" x="0.0 32.5 65.3">700</text>
<text class="b" font-size="48.0" transform="translate(1202.7 1394.9) rotate(-90) scale(1 1.190)" x="0.0 32.5 65.3">800</text>
<text class="b" font-size="48.0" transform="translate(1332.4 1394.9) rotate(-90) scale(1 1.190)" x="0.0 32.5 65.3">900</text>
<text class="b" font-size="48.0" transform="translate(1462.0 1434.2) rotate(-90) scale(1 1.190)" x="0.0 30.6 46.5 79.3 112.3">1.000</text>
<text class="b" font-size="48.0" transform="translate(1591.7 1434.2) rotate(-90) scale(1 1.190)" x="0.0 30.6 46.5 79.3 112.3">1.100</text>
<text class="b" font-size="48.0" transform="translate(1721.3 1434.2) rotate(-90) scale(1 1.190)" x="0.0 30.6 46.5 79.3 112.3">1.200</text>
<text class="b" font-size="48.0" transform="translate(1850.9 1434.2) rotate(-90) scale(1 1.190)" x="0.0 30.6 46.5 79.3 112.3">1.300</text>
<text class="b" font-size="48.0" transform="translate(1980.6 1434.2) rotate(-90) scale(1 1.190)" x="0.0 30.6 46.5 79.3 112.3">1.400</text>
<text class="b" font-size="48.0" transform="translate(2110.2 1434.2) rotate(-90) scale(1 1.190)" x="0.0 30.6 46.5 79.3 112.3">1.500</text>
</g>
<text class="b" font-size="48.2" letter-spacing="0.00" transform="translate(239.3 137.9) scale(1.193 1)">Índice</text>
<text class="b" font-size="48.2" letter-spacing="0.00" transform="translate(256.0 190.3) scale(1.193 1)">Wally</text>
<text class="b" font-size="48.2" letter-spacing="0.53" transform="translate(1680.2 1185.1) scale(1.193 1)">Ranking</text>
<text class="b" font-size="48.2" letter-spacing="-0.10" transform="translate(1657.7 1237.2) scale(1.193 1)">Editoriales</text>
<text font-size="49.94" x="601.0" y="294.3" xml:space="preserve">Editorial Universitaria: W=  0,8788 y Ranking = 20</text>
<text font-size="49.94" x="601.0" y="351.3" xml:space="preserve">Editorial Félix Varela:   W= 0,8198 y Ranking = 49</text>
<text font-size="48.8" transform="translate(872.85 971.5) scale(1.1292 1)">f(x)</text>
<text font-size="48.8" transform="translate(966.77 971.5) scale(1.1434 1)">=</text>
<text font-size="48.8" transform="translate(1014.13 971.5) scale(1.1639 1)">−</text>
<text font-size="48.8" transform="translate(1060.15 971.5) scale(1.1940 1)">0,000391</text>
<text font-size="48.8" transform="translate(1318.54 971.5) scale(1.1484 1)">x</text>
<text font-size="48.8" transform="translate(1361.97 971.5) scale(1.1434 1)">+</text>
<text font-size="48.8" transform="translate(1408.35 971.5) scale(1.1930 1)">0,773277</text>
<text font-size="48.8" transform="translate(872.65 1024.2) scale(1.1407 1)">R</text>
<text font-size="48.8" transform="translate(914.99 1024.2) scale(1.1407 1)">²</text>
<text font-size="48.8" transform="translate(948.57 1024.2) scale(1.1434 1)">=</text>
<text font-size="48.8" transform="translate(996.05 1024.2) scale(1.1937 1)">0,957394</text>
</svg></body></html>
